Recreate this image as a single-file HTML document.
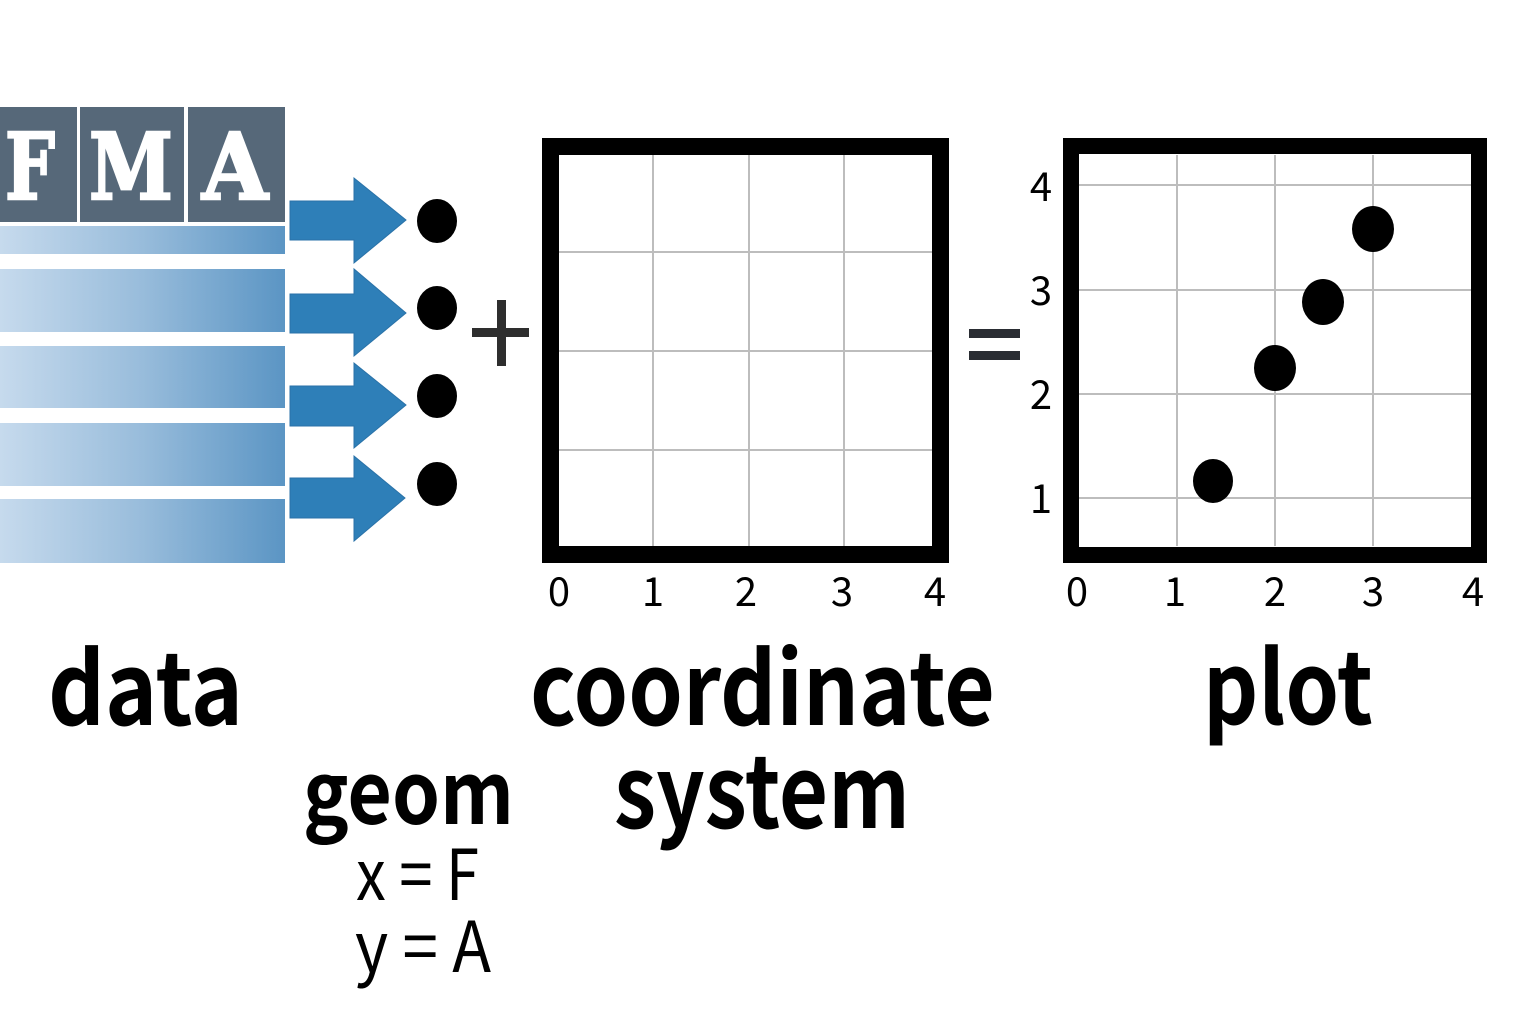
<!DOCTYPE html>
<html><head><meta charset="utf-8"><style>
html,body{margin:0;padding:0;background:#fff;}
svg{display:block;}
.lab{font-family:"Noto Sans CJK JP","Liberation Sans",sans-serif;font-weight:700;fill:#000;}
.sm{font-family:"Noto Sans CJK JP","Liberation Sans",sans-serif;font-weight:400;fill:#000;}
.tick{font-family:"Noto Sans CJK JP","Liberation Sans",sans-serif;font-weight:400;fill:#000;font-size:40px;text-anchor:middle;}
.hdr{font-family:"DejaVu Serif","Liberation Serif",serif;font-weight:700;fill:#fff;stroke:#fff;stroke-width:2.5;}
</style></head><body>
<svg width="1536" height="1024" viewBox="0 0 1536 1024" xmlns="http://www.w3.org/2000/svg">
<defs>
<linearGradient id="rg" x1="0" y1="0" x2="1" y2="0">
<stop offset="0" stop-color="#c6daed"/>
<stop offset="0.5" stop-color="#98bcdb"/>
<stop offset="1" stop-color="#5b95c4"/>
</linearGradient>
</defs>
<rect width="1536" height="1024" fill="#fff"/>

<!-- header -->
<rect x="0" y="107" width="77" height="115" fill="#566879"/>
<rect x="80" y="107" width="104" height="115" fill="#566879"/>
<rect x="188" y="107" width="97" height="115" fill="#566879"/>
<text class="hdr" x="5" y="199" font-size="92" textLength="50" lengthAdjust="spacingAndGlyphs">F</text>
<text class="hdr" x="89" y="199" font-size="92" textLength="84" lengthAdjust="spacingAndGlyphs">M</text>
<text class="hdr" x="202" y="199" font-size="92" textLength="66" lengthAdjust="spacingAndGlyphs">A</text>

<!-- rows -->
<rect x="0" y="226" width="285" height="28" fill="url(#rg)"/>
<rect x="0" y="269" width="285" height="63" fill="url(#rg)"/>
<rect x="0" y="346" width="285" height="62" fill="url(#rg)"/>
<rect x="0" y="423" width="285" height="63" fill="url(#rg)"/>
<rect x="0" y="499" width="285" height="64" fill="url(#rg)"/>

<!-- arrows -->
<g fill="#2e7fb8" stroke="#2a72a8" stroke-width="1">
<polygon points="290,201 354,201 354,178 406,220 354,263 354,240 290,240"/>
<polygon points="290,294 354,294 354,269 406,313 354,356 354,333 290,333"/>
<polygon points="290,386 354,386 354,363 406,405 354,448 354,426 290,426"/>
<polygon points="290,478 354,478 354,456 405,498 354,541 354,518 290,518"/>
</g>

<!-- dots -->
<g fill="#000">
<ellipse cx="437" cy="221" rx="20" ry="22"/>
<ellipse cx="437" cy="308" rx="20" ry="22"/>
<ellipse cx="437" cy="396" rx="20" ry="22"/>
<ellipse cx="437" cy="484" rx="20" ry="22"/>
</g>

<!-- plus -->
<rect x="472" y="328" width="57" height="9" fill="#2e2e2e"/>
<rect x="497" y="300" width="9" height="66" fill="#2e2e2e"/>

<!-- coordinate frame -->
<g stroke="#bdbdbd" stroke-width="2">
<line x1="653" y1="155" x2="653" y2="546"/>
<line x1="749" y1="155" x2="749" y2="546"/>
<line x1="844" y1="155" x2="844" y2="546"/>
<line x1="559" y1="252" x2="934" y2="252"/>
<line x1="559" y1="351" x2="934" y2="351"/>
<line x1="559" y1="450" x2="934" y2="450"/>
</g>
<rect x="550.5" y="146.5" width="390" height="408" fill="none" stroke="#000" stroke-width="17"/>
<text class="tick" x="559" y="606">0</text>
<text class="tick" x="653" y="606">1</text>
<text class="tick" x="746" y="606">2</text>
<text class="tick" x="842" y="606">3</text>
<text class="tick" x="935" y="606">4</text>

<!-- equals -->
<rect x="969" y="329" width="51" height="9" fill="#2a2d33"/>
<rect x="969" y="351" width="51" height="9" fill="#2a2d33"/>

<!-- plot frame -->
<g stroke="#bdbdbd" stroke-width="2">
<line x1="1177" y1="155" x2="1177" y2="546"/>
<line x1="1275" y1="155" x2="1275" y2="546"/>
<line x1="1373" y1="155" x2="1373" y2="546"/>
<line x1="1079" y1="185" x2="1471" y2="185"/>
<line x1="1079" y1="290" x2="1471" y2="290"/>
<line x1="1079" y1="394" x2="1471" y2="394"/>
<line x1="1079" y1="498" x2="1471" y2="498"/>
</g>
<rect x="1071" y="146" width="408" height="409" fill="none" stroke="#000" stroke-width="16"/>
<g fill="#000">
<ellipse cx="1373" cy="229" rx="21" ry="23"/>
<ellipse cx="1323" cy="302" rx="21" ry="23"/>
<ellipse cx="1275" cy="368" rx="21" ry="23"/>
<ellipse cx="1213" cy="481" rx="20" ry="22"/>
</g>
<text class="tick" x="1077" y="606">0</text>
<text class="tick" x="1175" y="606">1</text>
<text class="tick" x="1275" y="606">2</text>
<text class="tick" x="1373" y="606">3</text>
<text class="tick" x="1473" y="606">4</text>
<text class="tick" x="1041" y="201">4</text>
<text class="tick" x="1041" y="305">3</text>
<text class="tick" x="1041" y="409">2</text>
<text class="tick" x="1041" y="513">1</text>

<!-- labels -->
<text class="lab" x="48" y="725" font-size="100" textLength="195" lengthAdjust="spacingAndGlyphs">data</text>
<text class="lab" x="530" y="725" font-size="100" textLength="465" lengthAdjust="spacingAndGlyphs">coordinate</text>
<text class="lab" x="614" y="828" font-size="100" textLength="296" lengthAdjust="spacingAndGlyphs">system</text>
<text class="lab" x="1203" y="724" font-size="100" textLength="170" lengthAdjust="spacingAndGlyphs">plot</text>
<text class="lab" x="303" y="824" font-size="86" textLength="211" lengthAdjust="spacingAndGlyphs">geom</text>
<text class="sm" x="356" y="900" font-size="70" textLength="123" lengthAdjust="spacingAndGlyphs">x = F</text>
<text class="sm" x="355" y="972" font-size="70" textLength="136" lengthAdjust="spacingAndGlyphs">y = A</text>
</svg>
</body></html>
